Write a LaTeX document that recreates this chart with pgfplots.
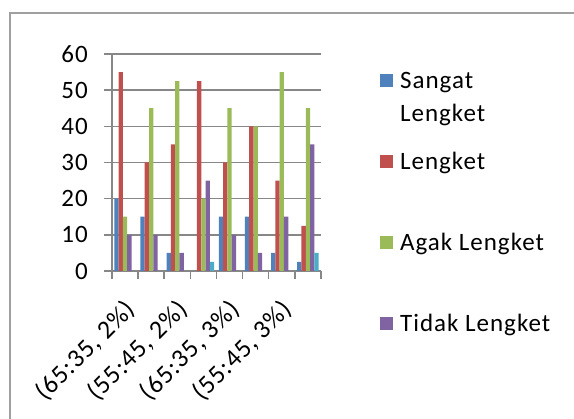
\documentclass[border=0pt]{standalone}
\usepackage{fontspec}
\setmainfont{Carlito}[LetterSpace=4.0]
\usepackage{pgfplots}
\pgfplotsset{compat=1.18}
\definecolor{sBlue}{HTML}{4F81BD}
\definecolor{sRed}{HTML}{C0504D}
\definecolor{sGreen}{HTML}{9BBB59}
\definecolor{sPurple}{HTML}{8064A2}
\definecolor{sCyan}{HTML}{4BACC6}
\definecolor{gridgray}{RGB}{135,135,135}
\definecolor{bordergray}{RGB}{160,160,160}
\begin{document}
\begin{tikzpicture}
\useasboundingbox (0,0) rectangle (574bp,419bp);
\draw[draw=bordergray, line width=1.5bp] (10bp,0) -- (10bp,406bp) -- (574bp,406bp);
\begin{axis}[
  at={(112bp,148bp)}, anchor=south west,
  scale only axis, width=209bp, height=217bp,
  ybar=0pt, bar width=4.3bp,
  xmin=0.5, xmax=8.5, ymin=0, ymax=60,
  ytick={0,10,...,60},
  xtick={1,3,5,7},
  xticklabels={{(65:35, 2\%)},{(55:45, 2\%)},{(65:35, 3\%)},{(55:45, 3\%)}},
  minor xtick={0.5,1.5,...,8.5},
  axis lines=left,
  axis line style={-, draw=gridgray, line width=1.5bp},
  ymajorgrids, grid style={draw=gridgray, line width=1.5bp},
  tick align=outside, major tick length=8bp, minor tick length=8bp,
  major x tick style={draw=none},
  minor x tick style={draw=gridgray, line width=1.5bp},
  ytick style={draw=gridgray, line width=1.5bp},
  /pgf/number format/assume math mode=true,
  yticklabel style={font=\fontsize{25bp}{30bp}\selectfont, inner sep=0pt, xshift=-16bp},
  xticklabel style={font=\fontsize{26bp}{30bp}\selectfont, xshift=-2bp, yshift=-18bp, rotate=45, anchor=north east, inner sep=0pt},
  legend style={at={(axis description cs:1.282,0.926)}, anchor=north west,
    draw=none, fill=none, inner sep=0pt, row sep=57bp, column sep=7bp,
    font=\fontsize{25bp}{33bp}\selectfont,
    nodes={inner sep=0pt, text height=18bp, text depth=6bp}},
  legend cell align=left,
  legend image code/.code={\fill[#1] (0bp,-4.5bp) rectangle (13bp,8.5bp);},
]
\addplot[fill=sBlue, draw=none] coordinates {(1,20) (2,15) (3,5) (4,0) (5,15) (6,15) (7,5) (8,2.5)};
\addlegendentry{\parbox[t]{150bp}{Sangat\\Lengket}}
\addplot[fill=sRed, draw=none] coordinates {(1,55) (2,30) (3,35) (4,52.5) (5,30) (6,40) (7,25) (8,12.5)};
\addlegendentry{Lengket}
\addplot[fill=sGreen, draw=none] coordinates {(1,15) (2,45) (3,52.5) (4,20) (5,45) (6,40) (7,55) (8,45)};
\addlegendentry{Agak Lengket}
\addplot[fill=sPurple, draw=none] coordinates {(1,10) (2,10) (3,5) (4,25) (5,10) (6,5) (7,15) (8,35)};
\addlegendentry{Tidak Lengket}
\addplot[fill=sCyan, draw=none] coordinates {(1,0) (2,0) (3,0) (4,2.5) (5,0) (6,0) (7,0) (8,5)};
\end{axis}
\end{tikzpicture}
\end{document}
